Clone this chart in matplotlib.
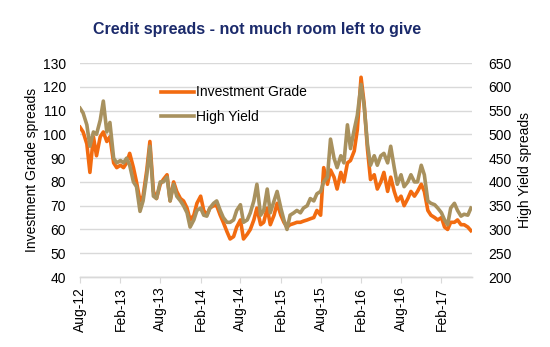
import matplotlib
matplotlib.use('Agg')
import matplotlib.pyplot as plt
import matplotlib.dates as mdates
import pandas as pd

plt.rcParams['font.family'] = ['Liberation Sans', 'DejaVu Sans']

# semi-monthly observations, Aug 2012 onwards
ig_spread = [103, 101, 96, 84, 99, 91, 99, 101, 97, 99,
             88, 86, 87, 86, 88, 92, 86, 80, 72, 74,
             85, 97, 76, 73, 79, 81, 83, 72, 80, 76,
             73, 72, 69, 64, 66, 71, 74, 68, 66, 69,
             70, 70, 66, 63, 59, 56, 57, 61, 64, 56,
             58, 60, 64, 69, 62, 63, 69, 62, 66, 71,
             66, 63, 61, 62, 62.5, 63, 63, 63.5, 64, 64.5,
             65, 68, 66, 86, 79, 85, 82, 77, 84, 80,
             88, 89, 93, 102, 124, 113, 94, 81, 83, 77,
             80, 84, 76, 82, 76, 72, 74, 70, 73, 76,
             74, 76, 79, 76, 68, 66, 65, 64, 65, 61,
             60, 63, 63, 64, 62, 62, 61, 59.5]

hy_spread = [555, 545, 520, 475, 505, 500, 530, 570, 505, 525,
             450, 440, 445, 440, 450, 435, 400, 390, 338, 360,
             415, 475, 370, 365, 400, 400, 410, 360, 395, 370,
             360, 350, 335, 305, 320, 340, 345, 330, 328, 345,
             355, 360, 340, 325, 315, 315, 320, 340, 352, 315,
             320, 335, 360, 395, 330, 340, 385, 335, 360, 380,
             345, 320, 300, 330, 335, 340, 335, 345, 350, 365,
             360, 375, 380, 400, 410, 490, 450, 430, 455, 440,
             520, 470, 510, 540, 605, 560, 480, 435, 455, 435,
             455, 460, 440, 475, 430, 395, 415, 390, 400, 415,
             400, 400, 435, 415, 360, 355, 352, 345, 335, 320,
             310, 345, 355, 340, 328, 332, 330, 345]

dates = pd.date_range('2012-08-01', periods=len(ig_spread), freq='SMS')

ig_color = '#F26B10'
hy_color = '#A8915E'
grid_color = '#D9D9D9'

fig = plt.figure(figsize=(5.5, 3.47), dpi=100)
ax = fig.add_axes([0.1455, 0.2017, 0.7127, 0.6167])
ax2 = ax.twinx()

ax.plot(dates, ig_spread, color=ig_color, linewidth=2.6, label='Investment Grade')
ax2.plot(dates, hy_spread, color=hy_color, linewidth=2.6, label='High Yield')

ax.set_ylim(40, 130)
ax.set_yticks(range(40, 131, 10))
ax2.set_ylim(200, 650)
ax2.set_yticks(range(200, 651, 50))

ax.set_xlim(pd.Timestamp('2012-08-01'), pd.Timestamp('2017-06-20'))
ax.xaxis.set_major_locator(mdates.MonthLocator(bymonth=[2, 8]))
ax.xaxis.set_major_formatter(mdates.DateFormatter('%b-%y'))
for lbl in ax.get_xticklabels():
    lbl.set_rotation(90)

ax.grid(axis='y', color=grid_color, linewidth=1)
ax.set_axisbelow(True)
for a in (ax, ax2):
    for side in ('top', 'left', 'right'):
        a.spines[side].set_visible(False)
    a.spines['bottom'].set_color(grid_color)
    a.spines['bottom'].set_linewidth(1)
    a.tick_params(axis='y', length=0, labelsize=10, colors='black')
ax.tick_params(axis='x', length=4, color=grid_color, labelsize=10, pad=3)
ax.tick_params(axis='y', pad=10)
ax2.tick_params(axis='y', pad=12)

ax.set_ylabel('Investment Grade spreads', fontsize=10, labelpad=3)
ax2.set_ylabel('High Yield spreads', fontsize=10, labelpad=4)

handles = ax.get_lines() + ax2.get_lines()
fig.legend(handles, [h.get_label() for h in handles], loc='upper left',
           bbox_to_anchor=(0.27, 0.79), frameon=False, fontsize=10,
           handlelength=2.4, handletextpad=0.15, labelspacing=0.75)

fig.text(0.468, 0.915, 'Credit spreads - not much room left to give',
         ha='center', va='center', fontsize=11.5, fontweight='bold',
         color='#1B2A6B')

fig.savefig('out.png', dpi=100, facecolor='white')
